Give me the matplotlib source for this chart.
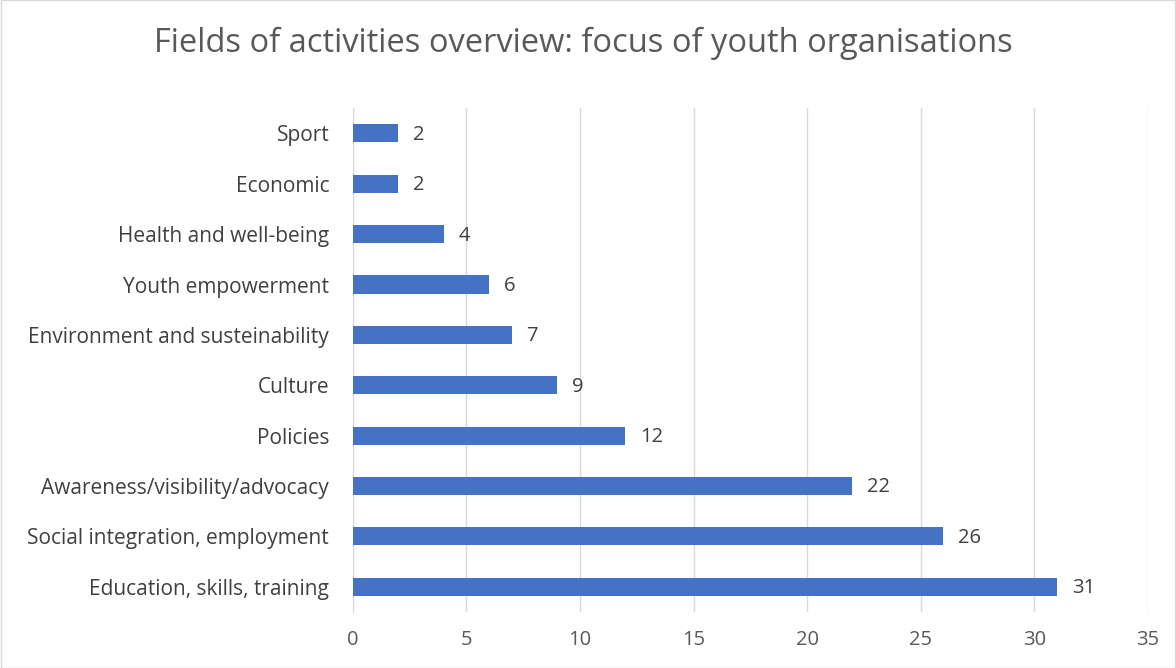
import matplotlib.pyplot as plt
import numpy as np

# data (top to bottom)
categories = ['Sport', 'Economic', 'Health and well-being', 'Youth empowerment',
              'Environment and susteinability', 'Culture', 'Policies',
              'Awareness/visibility/advocacy', 'Social integration, employment',
              'Education, skills, training']
counts = [2, 2, 4, 6, 7, 9, 12, 22, 26, 31]
xticks = [0, 5, 10, 15, 20, 25, 30, 35]

plt.rcParams['font.family'] = ['Open Sans', 'DejaVu Sans']

fig = plt.figure(figsize=(11.76, 6.68), dpi=100)
ax = fig.add_axes([0.300, 0.084, 0.676, 0.754])

y = np.arange(len(categories))[::-1]
bars = ax.barh(y, counts, height=0.36, color='#4472C4', zorder=3)

for yi, v in zip(y, counts):
    ax.text(v + 0.65, yi - 0.03, str(v), va='center', ha='left', fontsize=14.5, color='#404040')

ax.set_yticks(y)
ax.set_yticklabels(categories, fontsize=15, color='#404040')
ax.set_xticks(xticks)
ax.set_xticklabels([str(t) for t in xticks], fontsize=14.5, color='#595959')
ax.set_xlim(0, 35)
ax.set_ylim(-0.5, len(categories) - 0.5)

ax.grid(axis='x', color='#D9D9D9', linewidth=1, zorder=0)
for s in ['top', 'right', 'bottom']:
    ax.spines[s].set_visible(False)
ax.spines['left'].set_color('#D9D9D9')
ax.tick_params(axis='y', length=0, pad=17)
ax.tick_params(axis='x', length=0, pad=13)

fig.text(0.496, 0.935, 'Fields of activities overview: focus of youth organisations',
         ha='center', va='center', fontsize=23.5, color='#595959')

# light frame around the whole chart
fig.patches.append(plt.Rectangle((0.0005, 0.0005), 0.999, 0.999, transform=fig.transFigure,
                                 fill=False, edgecolor='#D9D9D9', linewidth=1))

fig.savefig('out.png', dpi=100)
